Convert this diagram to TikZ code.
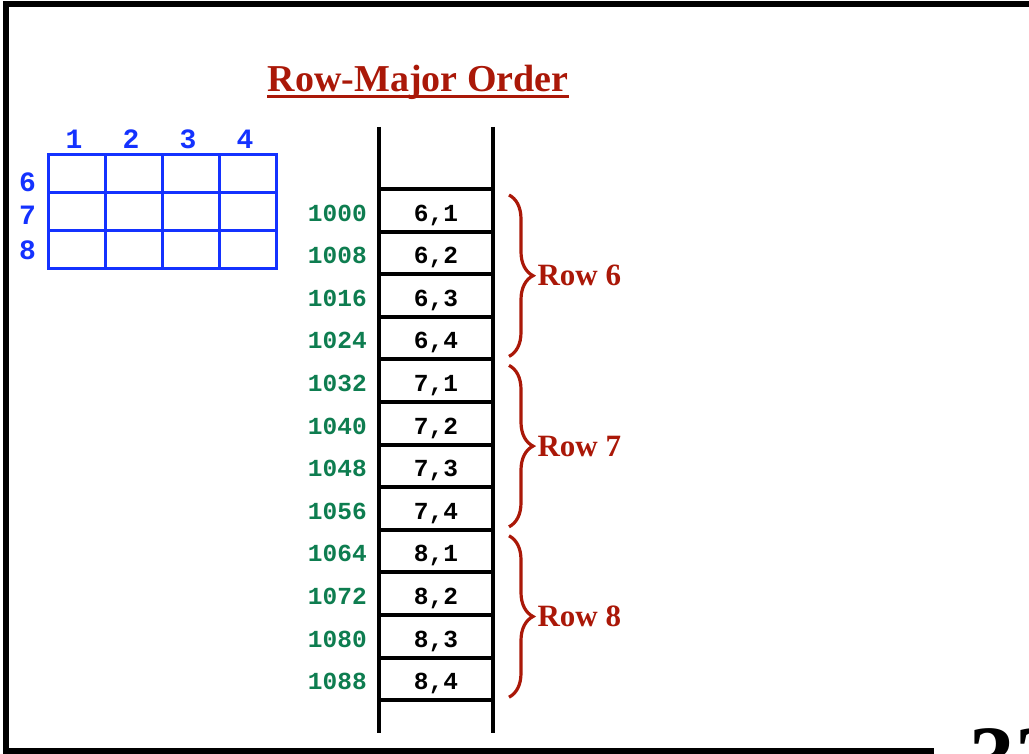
\documentclass[tikz,border=0pt]{standalone}
\usepackage{fontspec}
\setmainfont{Liberation Serif}
\setmonofont{Liberation Mono}
\usetikzlibrary{decorations.pathreplacing}
\definecolor{titlered}{RGB}{170,24,8}
\definecolor{addrgreen}{RGB}{14,125,80}
\definecolor{gridblue}{RGB}{20,50,255}
\begin{document}
\begin{tikzpicture}[x=1pt,y=-1pt,
  cellbox/.style={draw=black, line width=4pt, minimum width=114pt, minimum height=42.6pt, inner sep=0pt,
    font=\fontsize{24.5}{24.5}\selectfont\ttfamily\bfseries, text height=21.5pt, text depth=0pt},
  addrlabel/.style={inner sep=0pt, text=addrgreen, font=\fontsize{24.5}{24.5}\selectfont\ttfamily\bfseries,
    text height=21.5pt, text depth=0pt, anchor=east},
  memline/.style={draw=black, line width=4pt},
  gridcell/.style={draw=gridblue, line width=3pt, minimum width=57pt, minimum height=37.67pt, inner sep=0pt},
  gridlabel/.style={inner sep=0pt, text=gridblue, font=\fontsize{28}{28}\selectfont\ttfamily\bfseries},
  rowbrace/.style={draw=titlered, line width=3.2pt, decorate, decoration={brace, amplitude=24pt}},
  rowlabel/.style={anchor=west, xshift=27pt, inner sep=0pt, text=titlered, font=\fontsize{31}{31}\selectfont\bfseries},
  frameline/.style={draw=black, line width=6pt}
]
\useasboundingbox (0,0) rectangle (1029,754);
% frame
\draw[frameline] (1040,4) -- (6,4) -- (6,751) -- (934,751);
% title
\node[anchor=base, inner sep=0pt, text=titlered, font=\fontsize{38}{38}\selectfont\bfseries] (title) at (418,91.5) {Row-Major Order};
\draw[titlered, line width=2.5pt] ([yshift=-5pt]title.base west) -- ([yshift=-5pt]title.base east);
% grid
\foreach \r in {1,2,3}{
  \foreach \c in {1,...,4}{
    \node[gridcell] (g\r\c) at ({48+57*(\c-0.5)},{155+37.67*(\r-0.5)}) {};
  }
}
\foreach \c in {1,...,4}{
  \node[gridlabel] (col\c) at ({48+57*(\c-0.5)-2.5},139) {\c};
}
\node[gridlabel] (row6) at (27.5,182) {6};
\node[gridlabel] (row7) at (27.5,215.5) {7};
\node[gridlabel] (row8) at (27.5,250) {8};
% memory column
\coordinate (ltop) at (379,127);
\coordinate (lbot) at (379,733);
\coordinate (rtop) at (493,127);
\coordinate (rbot) at (493,733);
\draw[memline] (ltop) -- (lbot);
\draw[memline] (rtop) -- (rbot);
\foreach \r in {6,7,8}{
  \foreach \c in {1,...,4}{
    \pgfmathtruncatemacro{\i}{(\r-6)*4+\c}
    \pgfmathtruncatemacro{\ad}{1000+8*(\i-1)}
    \node[cellbox] (c\i) at (436,{210.3+42.6*(\i-1)}) {\r,\c};
    \node[addrlabel] (a\i) at ([xshift=-10pt]c\i.west) {\ad};
  }
}
% braces
\foreach \r in {6,7,8}{
  \pgfmathtruncatemacro{\first}{(\r-6)*4+1}
  \pgfmathtruncatemacro{\last}{(\r-6)*4+4}
  \draw[rowbrace] ([xshift=14pt,yshift=-8pt]c\first.north east) -- node[rowlabel] (lab\r) {Row \r} ([xshift=14pt,yshift=5pt]c\last.south east);
}
% page number
\node[anchor=base west, inner sep=0pt, font=\fontsize{92}{92}\selectfont\bfseries] (pagenum) at (969,789) {33};
\end{tikzpicture}
\end{document}
